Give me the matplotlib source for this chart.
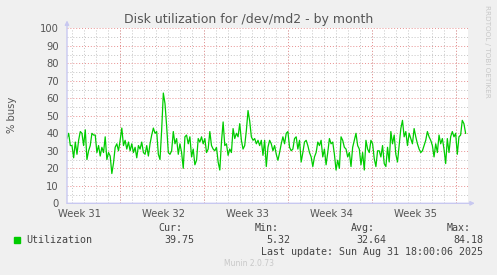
import numpy as np
import matplotlib
matplotlib.use("Agg")
import matplotlib.pyplot as plt

# Disk utilization (% busy), oldest first
utilization = [
    37, 40, 33, 33, 26, 35, 28, 36, 41, 40, 33, 42, 25, 30, 33, 40, 39, 39, 29, 33,
    27, 32, 29, 38, 25, 29, 27, 17, 23, 32, 34, 30, 36, 43, 33, 36, 31, 35, 30, 34,
    29, 32, 26, 33, 31, 35, 29, 28, 33, 27, 34, 39, 43, 40, 41, 28,
    25, 42, 63, 57, 44, 29, 28, 30, 41, 34, 37, 28, 34, 29, 20, 38, 39, 34, 38, 26.5,
    31, 22, 24.6, 37, 35, 38, 34, 37, 29, 31, 41, 33, 31, 30, 32, 23.6, 19, 35, 46.5, 33,
    34, 27.4, 31, 29, 42.7, 37, 40, 38, 45.5, 36, 31, 33, 41.7, 53, 47, 38, 36, 37, 34, 36,
    33, 36, 27.4, 36, 21, 32, 36, 34, 30, 33, 28, 24.6, 29, 34, 38, 34, 40, 41, 32, 30,
    31, 37, 38, 31, 36, 23.6, 29, 35, 36, 33, 29, 26.5, 21, 26.5, 29,
    35, 33, 36, 26.5, 31, 22, 29, 37, 34, 35, 28, 19, 24.6, 20, 38, 36, 32, 31, 26.5, 29,
    21, 32, 36, 40, 33, 31, 22, 29, 19, 36, 31, 29, 36, 34, 25.5, 21, 30, 30, 26.5, 33,
    22.7, 21, 32, 23.6, 41, 34, 39, 28, 23.6, 33, 42.7, 47.4, 38, 41, 33, 40, 37, 34, 42.7, 38,
    34, 31, 29, 30, 33, 36, 41, 38, 36, 33, 26.5, 34, 29, 39, 34, 37, 31, 22.7, 37, 29,
    38, 41, 38, 40, 28, 38, 39, 47.4, 45.5, 40,
]
week_labels = ["Week 31", "Week 32", "Week 33", "Week 34", "Week 35"]
span_days = 33.4          # munin "month" view covers 400 px * 2 h
first_week_start = 4.42   # day offset of the first week boundary
legend_stats = {"Cur:": "39.75", "Min:": "5.32", "Avg:": "32.64", "Max:": "84.18"}
last_update = "Last update: Sun Aug 31 18:00:06 2025"

W, H = 497, 275
BG = "#F0F0F0"
TEXT = "#555555"
AXIS = "#C8C8F0"
GREEN = "#00CC00"

fig = plt.figure(figsize=(W / 100, H / 100), dpi=100, facecolor=BG)
ax = fig.add_axes([67 / W, 1 - 203.3 / H, 401 / W, 175 / H])
ax.set_facecolor("white")

days = np.linspace(0, 33.2, len(utilization))
ax.plot(days, utilization, color=GREEN, lw=0.9, zorder=3)

ax.set_xlim(0, span_days)
ax.set_ylim(0, 100)

# grid: minor grey every day / 5 %, major red every week / 10 %
for d in np.arange(first_week_start - 4, span_days, 1.0):
    ax.axvline(d, color="#C4C4C4", lw=0.7, ls=(0, (1, 2)), zorder=1)
for d in np.arange(first_week_start, span_days, 7.0):
    ax.axvline(d, color="#E89090", lw=0.7, ls=(0, (1, 2)), zorder=2)
for v in range(5, 101, 10):
    ax.axhline(v, color="#C4C4C4", lw=0.7, ls=(0, (1, 2)), zorder=1)
for v in range(10, 101, 10):
    ax.axhline(v, color="#E89090", lw=0.7, ls=(0, (1, 2)), zorder=2)

for s in ax.spines.values():
    s.set_visible(False)
ax.annotate("", xy=(0, 1.045), xytext=(0, 0), xycoords="axes fraction",
            arrowprops=dict(arrowstyle="-|>", color=AXIS, lw=1, mutation_scale=6,
                            shrinkA=0, shrinkB=0))
ax.annotate("", xy=(1.017, 0), xytext=(0, 0), xycoords="axes fraction",
            arrowprops=dict(arrowstyle="-|>", color=AXIS, lw=1, mutation_scale=6,
                            shrinkA=0, shrinkB=0))

ax.set_yticks(range(0, 101, 10))
ax.set_xticks(first_week_start - 3.42 + 7 * np.arange(len(week_labels)))
ax.set_xticklabels(week_labels)
ax.tick_params(length=0, labelsize=7.2, labelcolor=TEXT)
ax.tick_params(axis="y", pad=6)
ax.tick_params(axis="x", pad=4)

fig.text(0.5, 1 - 19 / H, "Disk utilization for /dev/md2 - by month",
         ha="center", va="center", fontsize=9.0, color=TEXT)
fig.text(12 / W, 1 - 115 / H, "% busy", rotation=90, ha="center", va="center",
         fontsize=7.2, color=TEXT)
fig.text(487 / W, 1 - 5 / H, "RRDTOOL / TOBI OETIKER", rotation=270,
         ha="center", va="top", fontsize=5.2, color="#C8C8C8")

# legend block
mono = dict(family="DejaVu Sans Mono", fontsize=7.2, color="#444444")
fig.patches.append(plt.Rectangle((14 / W, 1 - 243 / H), 6 / W, 6 / H,
                                 transform=fig.transFigure, color=GREEN))
fig.text(26 / W, 1 - 240 / H, "Utilization", va="center", **mono)
for i, (name, val) in enumerate(legend_stats.items()):
    x_name = (158 + 96.3 * i) / W
    x_val = (194 + 96.3 * i) / W
    fig.text(x_name, 1 - 228 / H, name, va="center", **mono)
    fig.text(x_val, 1 - 240 / H, val, va="center", ha="right", **mono)
fig.text(483 / W, 1 - 252 / H, last_update, va="center", ha="right", **mono)
fig.text(0.5, 1 - 264 / H, "Munin 2.0.73", ha="center", va="center",
         fontsize=5.5, color="#C8C8C8")

fig.savefig("out.png", dpi=100, facecolor=BG)
